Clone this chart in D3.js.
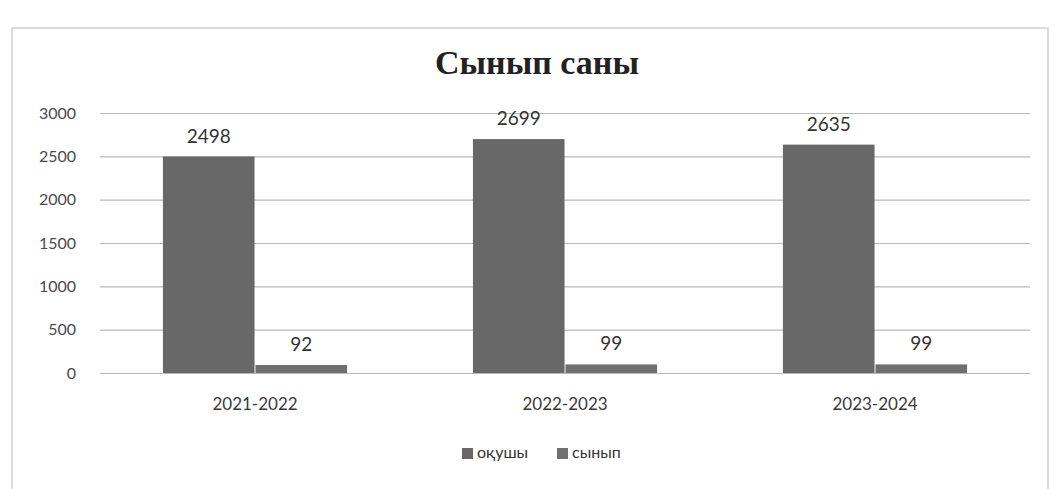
<!DOCTYPE html>
<html>
<head>
<meta charset="utf-8">
<script src="https://cdn.jsdelivr.net/npm/d3@7"></script>
<style>
  body { margin: 0; background: #fff; }
  svg { display: block; }
</style>
</head>
<body>
<svg id="chart" width="1058" height="489"></svg>
<script>
var years = ["2021-2022", "2022-2023", "2023-2024"];
var seriesNames = ["оқушы", "сынып"];
var pupils = [2498, 2699, 2635];
var classes = [92, 99, 99];
var yTicks = [0, 500, 1000, 1500, 2000, 2500, 3000];

var BAR_COLORS = ["#686868", "#6f6f6f"];
var LABEL_FONT = "Lato, 'Open Sans', sans-serif";

var svg = d3.select("#chart");

// outer frame of the chart
svg.append("rect")
	.attr("x", 12).attr("y", 28)
	.attr("width", 1036).attr("height", 470)
	.attr("fill", "#fff")
	.attr("stroke", "#cfcfcf")
	.attr("stroke-width", 1.5);

var x0 = d3.scaleBand().domain(years).range([100, 1030])
	.paddingInner(0.4).paddingOuter(0.2);
var x1 = d3.scaleBand().domain(seriesNames).range([0, x0.bandwidth()]).padding(0.01);
var y = d3.scaleLinear().domain([0, 3000]).range([373, 113]);

// title
svg.append("text")
	.attr("x", 537).attr("y", 74)
	.attr("text-anchor", "middle")
	.attr("font-family", "'Liberation Serif', 'Times New Roman', serif")
	.attr("font-weight", "bold")
	.attr("font-size", 34)
	.attr("fill", "#222")
	.text("Сынып саны");

// gridlines + y labels
var yAxis = d3.axisLeft(y).tickValues(yTicks).tickFormat(d3.format("d"))
	.tickSize(-(1030 - 100)).tickPadding(24);
var gy = svg.append("g").attr("transform", "translate(100,0)").call(yAxis);
gy.select(".domain").remove();
gy.selectAll(".tick line").attr("stroke", "#b9b9b9").attr("stroke-width", 1.2);
gy.selectAll(".tick text")
	.attr("font-family", LABEL_FONT)
	.attr("font-size", 16)
	.attr("fill", "#4a4a4a");

// category labels
var xAxis = d3.axisBottom(x0).tickSize(0).tickPadding(25);
var gx = svg.append("g").attr("transform", "translate(0,373)").call(xAxis);
gx.select(".domain").remove();
gx.selectAll(".tick text")
	.attr("font-family", LABEL_FONT)
	.attr("font-size", 17)
	.attr("fill", "#3a3a3a");

var rows = years.map(function(yr, i) {
	return { year: yr, values: [pupils[i], classes[i]] };
});

var groups = svg.selectAll("g.group").data(rows).enter().append("g")
	.attr("class", "group")
	.attr("transform", function(d) { return "translate(" + x0(d.year) + ",0)"; });

groups.selectAll("rect").data(function(d) {
	return d.values.map(function(v, j) { return { name: seriesNames[j], value: v, j: j }; });
}).enter().append("rect")
	.attr("x", function(d) { return x1(d.name); })
	.attr("y", function(d) { return y(d.value); })
	.attr("width", x1.bandwidth())
	.attr("height", function(d) { return y(0) - y(d.value); })
	.attr("fill", function(d) { return BAR_COLORS[d.j]; });

// value labels
groups.selectAll("text.val").data(function(d) {
	return d.values.map(function(v, j) { return { name: seriesNames[j], value: v }; });
}).enter().append("text")
	.attr("class", "val")
	.attr("x", function(d) { return x1(d.name) + x1.bandwidth() / 2; })
	.attr("y", function(d) { return y(d.value) - 14; })
	.attr("text-anchor", "middle")
	.attr("font-family", LABEL_FONT)
	.attr("font-size", 19)
	.attr("fill", "#333")
	.text(function(d) { return d.value; });

// legend
var legendX = [462, 557];
var legend = svg.selectAll("g.legend").data(seriesNames).enter().append("g")
	.attr("class", "legend")
	.attr("transform", function(d, i) { return "translate(" + legendX[i] + ",448)"; });
legend.append("rect")
	.attr("width", 11).attr("height", 11)
	.attr("fill", function(d, i) { return BAR_COLORS[i]; });
legend.append("text")
	.attr("x", 15).attr("y", 10)
	.attr("font-family", LABEL_FONT)
	.attr("font-size", 16)
	.attr("fill", "#333")
	.text(function(d) { return d; });
</script>
</body>
</html>
